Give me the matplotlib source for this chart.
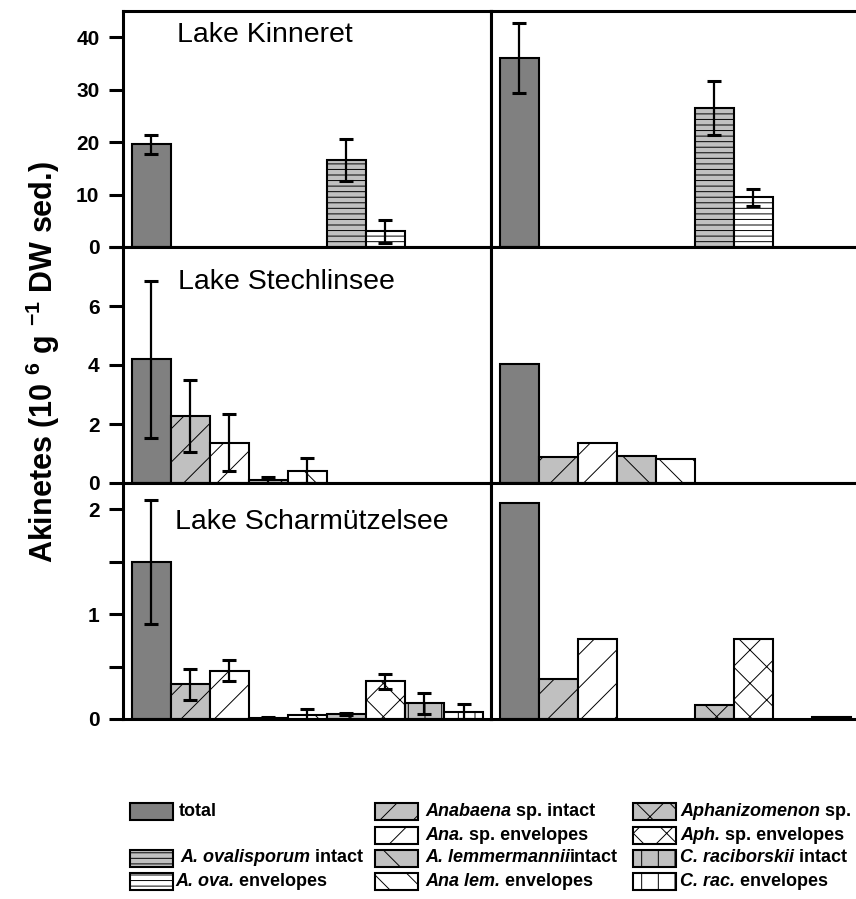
import numpy as np
import matplotlib
matplotlib.use("Agg")
import matplotlib.pyplot as plt
from matplotlib.patches import Rectangle
from matplotlib.ticker import MultipleLocator

plt.rcParams['font.family'] = ['Liberation Sans', 'DejaVu Sans']
plt.rcParams['mathtext.fontset'] = 'custom'
plt.rcParams['mathtext.rm'] = 'Liberation Sans:bold'
plt.rcParams['mathtext.bf'] = 'Liberation Sans:bold'
plt.rcParams['mathtext.it'] = 'Liberation Sans:bold:italic'
plt.rcParams['mathtext.default'] = 'bf'
plt.rcParams['hatch.linewidth'] = 0.7

nan = np.nan

# ---------------- data ----------------
slots = ['total', 'g1 intact', 'g1 envelopes', 'g2 intact', 'g2 envelopes',
         'g3 intact', 'g3 envelopes', 'g4 intact', 'g4 envelopes']

lakes = ['Lake Kinneret', 'Lake Stechlinsee', 'Lake Scharmützelsee']

kin_kind = ['total', None, None, None, None, 'aova_int', 'aova_env', None, None]
kin_a = [19.6, nan, nan, nan, nan, 16.5, 3.0, nan, nan]
kin_a_err = [1.8, nan, nan, nan, nan, 4.0, 2.2, nan, nan]
kin_b = [36.0, nan, nan, nan, nan, 26.5, 9.5, nan, nan]
kin_b_err = [6.7, nan, nan, nan, nan, 5.2, 1.6, nan, nan]

ste_kind = ['total', 'ana_int', 'ana_env', 'alem_int', 'alem_env', None, None, None, None]
ste_a = [4.2, 2.27, 1.37, 0.10, 0.42, nan, nan, nan, nan]
ste_a_err = [2.66, 1.22, 0.96, 0.10, 0.43, nan, nan, nan, nan]
ste_b = [4.02, 0.88, 1.35, 0.90, 0.81, nan, nan, nan, nan]

sch_kind = ['total', 'ana_int', 'ana_env', 'alem_int', 'alem_env',
            'aph_int', 'aph_env', 'crac_int', 'crac_env']
sch_a = [1.50, 0.33, 0.46, 0.01, 0.04, 0.05, 0.36, 0.15, 0.07]
sch_a_err = [0.59, 0.15, 0.10, 0.01, 0.06, 0.01, 0.07, 0.10, 0.07]
sch_b = [2.06, 0.38, 0.76, nan, nan, 0.13, 0.76, nan, 0.02]

ylims = [45, 8, 2.25]
ymajor = [10, 2, 1]
yminor = [10, 2, 0.5]
yticklabels = [[0, 10, 20, 30, 40], [0, 2, 4, 6], [0, 1, 2]]

# ---------------- styles ----------------
DARK = '#808080'
LIGHT = '#c0c0c0'
styles = {
    'total': (DARK, ''),
    'ana_int': (LIGHT, '/'),
    'ana_env': ('white', '/'),
    'alem_int': (LIGHT, '\\'),
    'alem_env': ('white', '\\'),
    'aph_int': (LIGHT, 'x'),
    'aph_env': ('white', 'x'),
    'crac_int': (LIGHT, '|'),
    'crac_env': ('white', '|'),
    'aova_int': (LIGHT, '---'),
    'aova_env': ('white', '---'),
}

W, H = 856, 899
fig = plt.figure(figsize=(W / 100, H / 100), dpi=100)


def fx(px):
    return px / W


def fy(py):
    return 1 - py / H


rows_px = [(11, 247), (247, 483), (483, 719)]
cols_px = [(123, 491), (491, 859)]

panels = [
    (kin_kind, kin_a, kin_a_err, kin_b, kin_b_err),
    (ste_kind, ste_a, ste_a_err, ste_b, None),
    (sch_kind, sch_a, sch_a_err, sch_b, None),
]

SPW = 2.2
x = np.arange(len(slots))
for r, (kind, va, vae, vb, vbe) in enumerate(panels):
    top, bot = rows_px[r]
    for c, (l, rr) in enumerate(cols_px):
        ax = fig.add_axes([fx(l), fy(bot), (rr - l) / W, (bot - top) / H])
        vals = va if c == 0 else vb
        errs = vae if c == 0 else vbe
        for i in range(len(slots)):
            if kind[i] is None or np.isnan(vals[i]):
                continue
            fc, h = styles[kind[i]]
            ax.bar(x[i], vals[i], width=1.0, color=fc, edgecolor='black',
                   linewidth=1.5, hatch=h, zorder=2)
        if errs is not None:
            ev = np.array(vals, dtype=float)
            ee = np.array(errs, dtype=float)
            ok = ~np.isnan(ev) & ~np.isnan(ee)
            ax.errorbar(x[ok], ev[ok], yerr=ee[ok], fmt='none', ecolor='black',
                        elinewidth=1.6, capsize=5, capthick=2.2, zorder=3)
        ax.set_xlim(-0.73, 8.705)
        ax.set_ylim(0, ylims[r])
        ax.set_xticks([])
        for s in ax.spines.values():
            s.set_linewidth(SPW)
            s.set_zorder(4)
        if c == 0:
            ax.yaxis.set_major_locator(MultipleLocator(ymajor[r]))
            ax.yaxis.set_minor_locator(MultipleLocator(yminor[r]))
            ax.tick_params(axis='y', which='both', direction='out', length=10,
                           width=2.2, labelsize=15, pad=7)
            ax.set_yticks(yticklabels[r])
            for t in ax.get_yticklabels():
                t.set_fontweight('bold')
        else:
            ax.set_yticks([])
            ax.tick_params(axis='y', which='both', length=0)

# lake labels
lake_pos = [(177, 35), (178, 282), (175, 522)]
for name, (px, py) in zip(lakes, lake_pos):
    fig.text(fx(px), fy(py), name, fontsize=20.5, ha='left', va='center')

# y label
fig.text(fx(43), fy(362), r'Akinetes (10 $^{6}$ g $^{-1}$ DW sed.)',
         rotation=90, fontsize=22, fontweight='bold', ha='center', va='center')

# ---------------- legend ----------------
renderer = fig.canvas.get_renderer()

leg_items = [
    # (kind, box_x, row, text_x, segments)
    ('total', 130, 0, 179, [('total', 'normal')]),
    ('aova_int', 130, 2, 180, [('A. ovalisporum', 'italic'), (' intact', 'normal')]),
    ('aova_env', 130, 3, 175, [('A. ova.', 'italic'), (' envelopes', 'normal')]),
    ('ana_int', 375, 0, 425, [('Anabaena', 'italic'), (' sp. intact', 'normal')]),
    ('ana_env', 375, 1, 425, [('Ana.', 'italic'), (' sp. envelopes', 'normal')]),
    ('alem_int', 375, 2, 425, [('A. lemmermannii', 'italic'), ('intact', 'normal')]),
    ('alem_env', 375, 3, 425, [('Ana lem.', 'italic'), (' envelopes', 'normal')]),
    ('aph_int', 633, 0, 680, [('Aphanizomenon', 'italic'), (' sp.', 'normal')]),
    ('aph_env', 633, 1, 680, [('Aph.', 'italic'), (' sp. envelopes', 'normal')]),
    ('crac_int', 633, 2, 680, [('C. raciborskii', 'italic'), (' intact', 'normal')]),
    ('crac_env', 633, 3, 680, [('C. rac.', 'italic'), (' envelopes', 'normal')]),
]
row_top = [803, 827, 850, 873]
row_mid = [812, 835, 858, 882]
BOXW, BOXH = 43, 17

for kind, bx, row, tx, segs in leg_items:
    fc, h = styles[kind]
    rect = Rectangle((fx(bx), fy(row_top[row] + BOXH)), BOXW / W, BOXH / H,
                     transform=fig.transFigure, facecolor=fc, edgecolor='black',
                     linewidth=1.5, hatch=h)
    fig.add_artist(rect)
    xx = tx
    for txt, st in segs:
        t = fig.text(fx(xx), fy(row_mid[row]), txt, fontsize=13,
                     fontweight='bold', fontstyle=st, ha='left', va='center')
        bb = t.get_window_extent(renderer)
        xx += bb.width

fig.savefig('out.png', dpi=100)
